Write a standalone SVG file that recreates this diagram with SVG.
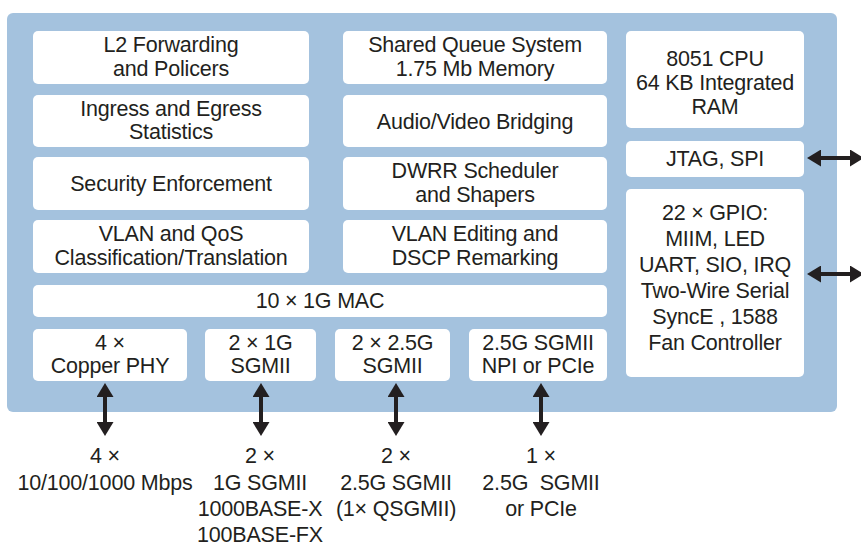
<svg xmlns="http://www.w3.org/2000/svg" width="861" height="544" viewBox="0 0 861 544">
<style>
.box{fill:#ffffff;}
.t{font-family:"Liberation Sans",Arial,sans-serif;font-size:21.5px;fill:#231f20;text-anchor:middle;letter-spacing:-0.2px;}
.c{stroke:#231f20;stroke-width:4;fill:none;marker-start:url(#ah);marker-end:url(#ah);}
</style>
<defs>
<marker id="ah" viewBox="0 0 14 17" refX="6" refY="8.5" markerWidth="14" markerHeight="17" markerUnits="userSpaceOnUse" orient="auto-start-reverse">
<path d="M0,0 L14,8.5 L0,17 Z" fill="#231f20"/>
</marker>
</defs>
<rect x="7" y="13" width="830" height="399" rx="6" fill="#a4c2de"/>

<g id="l2fwd"><rect class="box" x="33" y="31" width="276" height="53" rx="5"/><text class="t" x="171" y="52">L2 Forwarding</text><text class="t" x="171" y="75.5">and Policers</text></g>
<g id="stats"><rect class="box" x="33" y="95" width="276" height="52" rx="5"/><text class="t" x="171" y="115.5">Ingress and Egress</text><text class="t" x="171" y="139">Statistics</text></g>
<g id="security"><rect class="box" x="33" y="157" width="276" height="53" rx="5"/><text class="t" x="171" y="191">Security Enforcement</text></g>
<g id="vlanqos"><rect class="box" x="33" y="220" width="276" height="53" rx="5"/><text class="t" x="171" y="241">VLAN and QoS</text><text class="t" x="171" y="264.5">Classification/Translation</text></g>

<g id="queue"><rect class="box" x="343" y="31" width="264" height="53" rx="5"/><text class="t" x="475" y="52">Shared Queue System</text><text class="t" x="475" y="75.5">1.75 Mb Memory</text></g>
<g id="avb"><rect class="box" x="343" y="95" width="264" height="52" rx="5"/><text class="t" x="475" y="128.5">Audio/Video Bridging</text></g>
<g id="dwrr"><rect class="box" x="343" y="157" width="264" height="53" rx="5"/><text class="t" x="475" y="178">DWRR Scheduler</text><text class="t" x="475" y="201.5">and Shapers</text></g>
<g id="vlanedit"><rect class="box" x="343" y="220" width="264" height="53" rx="5"/><text class="t" x="475" y="241">VLAN Editing and</text><text class="t" x="475" y="264.5">DSCP Remarking</text></g>

<g id="cpu"><rect class="box" x="626" y="31" width="178" height="97" rx="5"/><text class="t" x="715" y="66">8051 CPU</text><text class="t" x="715" y="90">64 KB Integrated</text><text class="t" x="715" y="113.5">RAM</text></g>
<g id="jtag"><rect class="box" x="626" y="141" width="178" height="36" rx="5"/><text class="t" x="715" y="165.5">JTAG, SPI</text></g>
<g id="gpio"><rect class="box" x="626" y="189" width="178" height="188" rx="5"/>
<text class="t" x="715" y="220">22 × GPIO:</text>
<text class="t" x="715" y="246">MIIM, LED</text>
<text class="t" x="715" y="272">UART, SIO, IRQ</text>
<text class="t" x="715" y="298">Two-Wire Serial</text>
<text class="t" x="715" y="324">SyncE , 1588</text>
<text class="t" x="715" y="350">Fan Controller</text></g>

<g id="mac"><rect class="box" x="33" y="285" width="574" height="32" rx="5"/><text class="t" x="320" y="308">10 × 1G MAC</text></g>

<g id="copper"><rect class="box" x="33" y="329" width="154" height="52" rx="5"/><text class="t" x="110" y="349.5">4 ×</text><text class="t" x="110" y="373">Copper PHY</text></g>
<g id="sgmii1g"><rect class="box" x="205" y="329" width="111" height="52" rx="5"/><text class="t" x="260.5" y="349.5">2 × 1G</text><text class="t" x="260.5" y="373">SGMII</text></g>
<g id="sgmii25"><rect class="box" x="335" y="329" width="115" height="52" rx="5"/><text class="t" x="392.5" y="349.5">2 × 2.5G</text><text class="t" x="392.5" y="373">SGMII</text></g>
<g id="npi"><rect class="box" x="469" y="329" width="138" height="52" rx="5"/><text class="t" x="538" y="349.5">2.5G SGMII</text><text class="t" x="538" y="373">NPI or PCIe</text></g>

<g id="connectors">
<line class="c" x1="105" y1="391" x2="105" y2="428"/>
<line class="c" x1="261" y1="391" x2="261" y2="428"/>
<line class="c" x1="396" y1="391" x2="396" y2="428"/>
<line class="c" x1="541" y1="391" x2="541" y2="428"/>
<line class="c" x1="815" y1="158" x2="856" y2="158"/>
<line class="c" x1="815" y1="274" x2="856" y2="274"/>
</g>

<g id="labels">
<text class="t" x="105" y="463">4 ×</text>
<text class="t" x="105" y="490">10/100/1000 Mbps</text>
<text class="t" x="260" y="463">2 ×</text>
<text class="t" x="260" y="490">1G SGMII</text>
<text class="t" x="260" y="515.5">1000BASE-X</text>
<text class="t" x="260" y="541.5">100BASE-FX</text>
<text class="t" x="396" y="463">2 ×</text>
<text class="t" x="396" y="490">2.5G SGMII</text>
<text class="t" x="396" y="515.5">(1× QSGMII)</text>
<text class="t" x="541" y="463">1 ×</text>
<text class="t" x="541" y="490">2.5G&#160; SGMII</text>
<text class="t" x="541" y="515.5">or PCIe</text>
</g>
</svg>
